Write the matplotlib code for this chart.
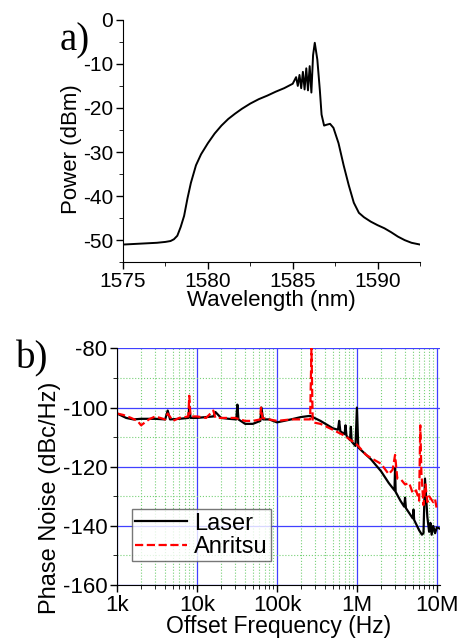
import numpy as np
import matplotlib.pyplot as plt
from matplotlib.ticker import MultipleLocator, FixedLocator, LogLocator, NullFormatter

plt.rcParams['font.family'] = ['Liberation Sans', 'DejaVu Sans']
plt.rcParams['axes.unicode_minus'] = False

# --- panel a: optical spectrum ---
wl = [1575.0, 1575.5, 1576.0, 1576.5, 1577.0, 1577.5, 1577.8, 1578.0, 1578.2, 1578.4,
      1578.6, 1578.8, 1579.0, 1579.3, 1579.6, 1580.0, 1580.4, 1580.8, 1581.2, 1581.6,
      1582.0, 1582.5, 1583.0, 1583.5, 1584.0, 1584.5, 1585.0, 1585.2, 1585.3, 1585.4,
      1585.5, 1585.6, 1585.7, 1585.8, 1585.9, 1586.0, 1586.1, 1586.2, 1586.3, 1586.45,
      1586.6, 1586.7, 1586.85, 1587.0, 1587.2, 1587.4, 1587.7, 1588.0, 1588.3, 1588.6,
      1588.9, 1589.2, 1589.6, 1590.0, 1590.4, 1590.8, 1591.2, 1591.6, 1592.0, 1592.5]
power = [-51.0, -50.9, -50.8, -50.7, -50.6, -50.4, -50.2, -49.8, -49.0, -47.0,
         -44.5, -40.5, -37.0, -33.0, -30.5, -28.0, -25.8, -24.0, -22.5, -21.3,
         -20.2, -19.0, -18.0, -17.2, -16.3, -15.5, -14.5, -13.0, -15.0, -12.5,
         -15.5, -11.8, -15.8, -11.0, -16.0, -10.5, -16.5, -8.0, -5.2, -9.0,
         -16.0, -21.5, -24.0, -23.8, -23.6, -24.5, -28.0, -33.0, -37.5, -41.5,
         -43.8, -44.8, -45.8, -46.6, -47.3, -48.2, -49.2, -50.0, -50.6, -51.0]

# --- panel b: phase noise ---
f_laser = [1e3, 1.3e3, 1.6e3, 2e3, 3e3, 4e3, 4.3e3, 4.6e3, 6e3, 7.8e3,
           8e3, 8.3e3, 1e4, 1.3e4, 1.6e4, 1.7e4, 2e4, 2.5e4, 3.1e4, 3.2e4,
           3.3e4, 4e4, 5e4, 6.2e4, 6.4e4, 6.7e4, 8e4, 1e5, 1.5e5, 2e5,
           2.6e5, 3.5e5, 5e5, 5.8e5, 6e5, 6.2e5, 7e5, 7.2e5, 7.4e5, 8.2e5,
           8.4e5, 8.6e5, 9.6e5, 1e6, 1.04e6, 1.5e6, 2e6, 2.5e6, 2.95e6, 3e6,
           3.05e6, 3.5e6, 3.9e6, 4e6, 4.1e6, 5e6, 5.1e6, 5.2e6, 6e6, 6.5e6,
           6.8e6, 7.1e6, 7.6e6, 8e6, 8.3e6, 8.6e6, 9e6, 9.5e6, 1e7, 1.1e7]
pn_laser = [-102.0, -103.5, -104.0, -103.8, -103.8, -104.0, -101.0, -104.0, -103.8, -103.5,
            -99.5, -103.5, -103.5, -103.2, -103.0, -101.5, -103.5, -103.8, -104.0, -99.0,
            -104.0, -105.5, -105.5, -104.5, -100.0, -104.0, -104.0, -105.0, -104.0, -103.2,
            -102.8, -104.5, -107.0, -107.5, -104.5, -108.0, -109.0, -106.0, -109.5, -111.0,
            -106.5, -111.5, -113.0, -100.0, -113.5, -117.5, -121.5, -125.5, -128.0, -120.5,
            -128.5, -131.5, -133.5, -130.5, -134.0, -137.5, -134.5, -138.0, -141.5, -143.0,
            -142.5, -124.0, -137.0, -142.0, -139.0, -143.0, -140.0, -142.5, -140.5, -141.0]

f_anritsu = [1e3, 1.2e3, 1.5e3, 1.8e3, 2e3, 2.5e3, 3e3, 4e3, 4.3e3, 5e3,
             6e3, 7.8e3, 8e3, 8.3e3, 1e4, 1.3e4, 1.6e4, 1.7e4, 2e4, 2.5e4,
             3e4, 4e4, 5e4, 6.2e4, 6.3e4, 6.6e4, 8e4, 1e5, 1.5e5, 2e5,
             2.6e5, 2.7e5, 2.8e5, 3.5e5, 5e5, 7e5, 1e6, 1.3e6, 1.6e6, 2e6,
             2.5e6, 2.8e6, 3e6, 3.2e6, 3.6e6, 4e6, 4.5e6, 5e6, 5.5e6, 6e6,
             6.2e6, 6.4e6, 6.8e6, 7.2e6, 7.6e6, 8e6, 8.5e6, 9e6, 9.5e6, 1e7]
pn_anritsu = [-102.0, -102.5, -103.5, -104.5, -106.0, -104.0, -103.0, -104.0, -102.0, -104.5,
              -103.5, -103.0, -96.0, -103.0, -103.0, -103.5, -101.0, -103.5, -103.5, -103.5,
              -103.5, -104.5, -104.5, -104.0, -100.0, -103.5, -104.0, -104.5, -104.0, -104.0,
              -104.0, -80.0, -105.0, -105.5, -107.5, -109.5, -112.5, -116.0, -117.5, -119.0,
              -122.5, -121.0, -116.0, -124.0, -124.5, -126.0, -125.5, -129.0, -128.0, -131.5,
              -106.0, -122.0, -133.0, -126.0, -132.0, -130.0, -131.0, -132.0, -131.0, -134.5]

fig = plt.figure(figsize=(4.59, 6.41), dpi=100)

# panel a
ax1 = fig.add_axes([0.268, 0.591, 0.647, 0.378])
ax1.plot(wl, power, color='black', lw=1.4)
ax1.set_xlim(1575, 1592.5)
ax1.set_ylim(-55, 0)
ax1.xaxis.set_major_locator(FixedLocator([1575, 1580, 1585, 1590]))
ax1.xaxis.set_minor_locator(MultipleLocator(2.5))
ax1.yaxis.set_major_locator(FixedLocator([0, -10, -20, -30, -40, -50]))
ax1.yaxis.set_minor_locator(MultipleLocator(5))
for s in ['top', 'right']:
    ax1.spines[s].set_visible(False)
ax1.tick_params(direction='out', labelsize=15, length=5, width=1, pad=2)
ax1.tick_params(which='minor', direction='out', length=3)
ax1.set_xlabel('Wavelength (nm)', fontsize=16)
ax1.set_ylabel('Power (dBm)', fontsize=16)
ax1.xaxis.set_label_coords(0.5, -0.113)
ax1.yaxis.set_label_coords(-0.172, 0.467)
ax1.xaxis.label.set_va('top')
ax1.yaxis.label.set_va('center')
fig.text(0.13, 0.922, 'a)', family='Liberation Serif', fontsize=28)

# panel b
ax2 = fig.add_axes([0.255, 0.0874, 0.704, 0.369])
ax2.semilogx(f_laser, pn_laser, color='black', lw=1.6, label='Laser')
ax2.semilogx(f_anritsu, pn_anritsu, color='red', lw=1.6, ls='--', label='Anritsu')
ax2.set_xlim(1e3, 1.1e7)
ax2.set_ylim(-160, -80)
ax2.set_xticks([1e3, 1e4, 1e5, 1e6, 1e7])
ax2.set_xticklabels(['1k', '10k', '100k', '1M', '10M'])
ax2.xaxis.set_minor_locator(LogLocator(base=10, subs=np.arange(2, 10), numticks=20))
ax2.xaxis.set_minor_formatter(NullFormatter())
ax2.yaxis.set_major_locator(MultipleLocator(20))
ax2.yaxis.set_minor_locator(MultipleLocator(10))
ax2.grid(which='major', color='#4040ff', lw=0.9, ls='-')
ax2.grid(which='minor', color='#77d077', lw=0.8, ls=':')
ax2.set_axisbelow(True)
for s in ['top', 'right']:
    ax2.spines[s].set_visible(False)
ax2.tick_params(direction='out', labelsize=16, length=5, width=1, pad=2)
ax2.tick_params(which='minor', direction='out', length=3)
ax2.set_xlabel('Offset Frequency (Hz)', fontsize=16.5)
ax2.set_ylabel('Phase Noise (dBc/Hz)', fontsize=17)
ax2.xaxis.set_label_coords(0.5, -0.128)
ax2.yaxis.set_label_coords(-0.207, 0.369)
ax2.xaxis.label.set_va('top')
ax2.yaxis.label.set_va('center')
leg = ax2.legend(loc='lower left', bbox_to_anchor=(0.045, 0.1), fontsize=17,
                 frameon=True, fancybox=False, handlelength=2.2, borderpad=0.15,
                 labelspacing=0.05, handletextpad=0.3, borderaxespad=0)
leg.get_frame().set_edgecolor('#555555')
leg.get_frame().set_linewidth(1.0)
fig.text(0.035, 0.425, 'b)', family='Liberation Serif', fontsize=28)

fig.savefig('out.png', dpi=100)
